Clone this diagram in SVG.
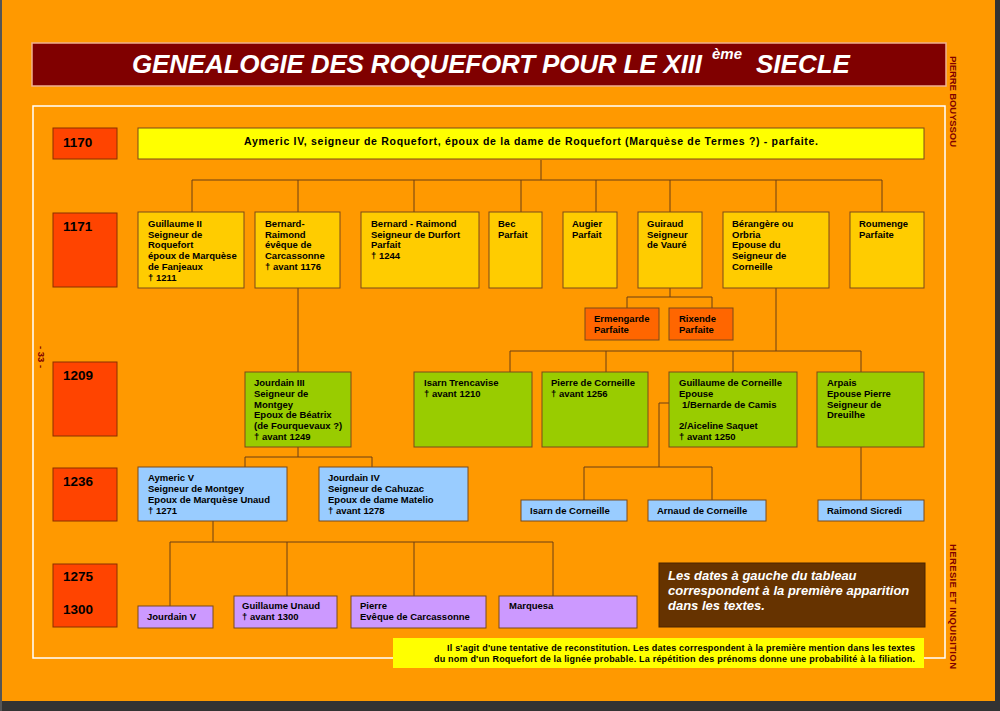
<svg xmlns="http://www.w3.org/2000/svg" width="1000" height="711" viewBox="0 0 1000 711">
<style>
text{font-family:"Liberation Sans",Arial,sans-serif;font-weight:bold;}
.nb{stroke:#7a4a1a;stroke-width:1;}
.t{font-size:9.5px;fill:#000;}
.yr{fill:#ff4400;stroke:#8a3000;stroke-width:1;}
.yt{font-size:13.5px;fill:#000;}
.c1{fill:#ffcc00;}
.c2{fill:#99cc00;}
.c3{fill:#99ccff;}
.c4{fill:#cc99ff;}
.c5{fill:#ff6600;}
.side{font-size:9.5px;fill:#800000;}
#connectors path{fill:none;stroke:#6b3e14;stroke-width:1;}
</style>
<rect x="0" y="0" width="1000" height="711" fill="#ff9900"/>
<rect x="995" y="0" width="5" height="711" fill="#333"/>
<rect x="0" y="701" width="1000" height="10" fill="#333"/>
<rect x="0" y="0" width="2" height="711" fill="#555"/>

<g id="title">
<rect x="32" y="43" width="914" height="43" fill="#800000" stroke="#f0b090" stroke-width="1.5"/>
<text x="132" y="73" font-size="26" font-style="italic" fill="#fff" textLength="570">GENEALOGIE DES ROQUEFORT POUR LE XIII</text>
<text x="712" y="59" font-size="15" font-style="italic" fill="#fff">ème</text>
<text x="756" y="73" font-size="26" font-style="italic" fill="#fff">SIECLE</text>
</g>

<rect x="33" y="106" width="912" height="552" fill="none" stroke="#fff" stroke-width="1.5"/>

<text class="side" transform="translate(950,56) rotate(90)" textLength="91">PIERRE BOUYSSOU</text>
<text class="side" transform="translate(950,544) rotate(90)" textLength="125">HERESIE ET INQUISITION</text>
<text class="side" transform="translate(38,346) rotate(90)" font-size="11">- 33 -</text>

<g id="years">
<g id="y1170"><rect class="yr" x="53" y="128" width="64" height="31"/><text class="yt" x="63" y="147">1170</text></g>
<g id="y1171"><rect class="yr" x="53" y="213" width="64" height="74"/><text class="yt" x="63" y="231">1171</text></g>
<g id="y1209"><rect class="yr" x="53" y="362" width="64" height="74"/><text class="yt" x="63" y="380">1209</text></g>
<g id="y1236"><rect class="yr" x="53" y="468" width="64" height="53"/><text class="yt" x="63" y="486">1236</text></g>
<g id="y1275"><rect class="yr" x="53" y="564" width="64" height="63"/><text class="yt" x="63" y="581">1275</text><text class="yt" x="63" y="614">1300</text></g>
</g>

<g id="connectors">
<path d="M541 160V180M192 180H882M192 180V212M298 180V212M414 180V212M521 180V212M596 180V212M670 180V212M776 180V212M882 180V212"/>
<path d="M670 288V297M627 297H712M627 297V308M712 297V308"/>
<path d="M298 288V372"/>
<path d="M776 288V351M510 351H861M510 351V372M606 351V372M733 351V372M861 351V372"/>
<path d="M298 447V457M245 457H372M245 457V467M372 457V467"/>
<path d="M669 403H659V467M584 467H712M584 467V500M712 467V500"/>
<path d="M861 447V500"/>
<path d="M213 521V542M170 542H553M170 542V606M287 542V596M414 542V596M553 542V596"/>
</g>

<g id="n_aymeric4"><rect class="nb" x="138" y="128" width="786" height="31" fill="#ffff00"/>
<text x="531" y="145" font-size="10.5" text-anchor="middle" textLength="574">Aymeric IV, seigneur de Roquefort, époux de la dame de Roquefort  (Marquèse de Termes ?) - parfaite.</text></g>

<g id="n_guillaume2"><rect class="nb c1" x="138" y="212" width="106" height="76"/>
<text class="t" x="148" y="227"><tspan x="148">Guillaume II</tspan><tspan x="148" dy="10.7">Seigneur de</tspan><tspan x="148" dy="10.7">Roquefort</tspan><tspan x="148" dy="10.7">époux de Marquèse</tspan><tspan x="148" dy="10.7">de Fanjeaux</tspan><tspan x="148" dy="10.7">† 1211</tspan></text></g>

<g id="n_bernard_eveque"><rect class="nb c1" x="255" y="212" width="85" height="76"/>
<text class="t" x="265" y="227"><tspan x="265">Bernard-</tspan><tspan x="265" dy="10.7">Raimond</tspan><tspan x="265" dy="10.7">évêque de</tspan><tspan x="265" dy="10.7">Carcassonne</tspan><tspan x="265" dy="10.7">† avant 1176</tspan></text></g>

<g id="n_bernard_durfort"><rect class="nb c1" x="361" y="212" width="118" height="76"/>
<text class="t" x="371" y="227"><tspan x="371">Bernard - Raimond</tspan><tspan x="371" dy="10.7">Seigneur de Durfort</tspan><tspan x="371" dy="10.7">Parfait</tspan><tspan x="371" dy="10.7">† 1244</tspan></text></g>

<g id="n_bec"><rect class="nb c1" x="489" y="212" width="53" height="76"/>
<text class="t" x="498" y="227"><tspan x="498">Bec</tspan><tspan x="498" dy="10.7">Parfait</tspan></text></g>

<g id="n_augier"><rect class="nb c1" x="563" y="212" width="54" height="76"/>
<text class="t" x="572" y="227"><tspan x="572">Augier</tspan><tspan x="572" dy="10.7">Parfait</tspan></text></g>

<g id="n_guiraud"><rect class="nb c1" x="638" y="212" width="64" height="76"/>
<text class="t" x="647" y="227"><tspan x="647">Guiraud</tspan><tspan x="647" dy="10.7">Seigneur</tspan><tspan x="647" dy="10.7">de Vauré</tspan></text></g>

<g id="n_berangere"><rect class="nb c1" x="723" y="212" width="106" height="76"/>
<text class="t" x="732" y="227"><tspan x="732">Bérangère ou</tspan><tspan x="732" dy="10.7">Orbria</tspan><tspan x="732" dy="10.7">Epouse du</tspan><tspan x="732" dy="10.7">Seigneur de</tspan><tspan x="732" dy="10.7">Corneille</tspan></text></g>

<g id="n_roumenge"><rect class="nb c1" x="850" y="212" width="74" height="76"/>
<text class="t" x="859" y="227"><tspan x="859">Roumenge</tspan><tspan x="859" dy="10.7">Parfaite</tspan></text></g>

<g id="n_ermengarde"><rect class="nb c5" x="585" y="308" width="74" height="32"/>
<text class="t" x="594" y="322"><tspan x="594">Ermengarde</tspan><tspan x="594" dy="11">Parfaite</tspan></text></g>

<g id="n_rixende"><rect class="nb c5" x="669" y="308" width="64" height="32"/>
<text class="t" x="679" y="322"><tspan x="679">Rixende</tspan><tspan x="679" dy="11">Parfaite</tspan></text></g>

<g id="n_jourdain3"><rect class="nb c2" x="245" y="372" width="106" height="75"/>
<text class="t" x="254" y="386"><tspan x="254">Jourdain III</tspan><tspan x="254" dy="10.8">Seigneur de</tspan><tspan x="254" dy="10.8">Montgey</tspan><tspan x="254" dy="10.8">Epoux de Béatrix</tspan><tspan x="254" dy="10.8">(de Fourquevaux ?)</tspan><tspan x="254" dy="10.8">† avant 1249</tspan></text></g>

<g id="n_isarn_trencavise"><rect class="nb c2" x="414" y="372" width="118" height="75"/>
<text class="t" x="424" y="386"><tspan x="424">Isarn Trencavise</tspan><tspan x="424" dy="10.8">† avant 1210</tspan></text></g>

<g id="n_pierre_corneille"><rect class="nb c2" x="542" y="372" width="106" height="75"/>
<text class="t" x="551" y="386"><tspan x="551">Pierre de Corneille</tspan><tspan x="551" dy="10.8">† avant 1256</tspan></text></g>

<g id="n_guillaume_corneille"><rect class="nb c2" x="669" y="372" width="128" height="75"/>
<text class="t" x="679" y="386"><tspan x="679">Guillaume de Corneille</tspan><tspan x="679" dy="10.8">Epouse</tspan><tspan x="682" dy="10.8">1/Bernarde de Camis</tspan><tspan x="679" dy="21.6">2/Aiceline Saquet</tspan><tspan x="679" dy="10.8">† avant 1250</tspan></text></g>

<g id="n_arpais"><rect class="nb c2" x="817" y="372" width="107" height="75"/>
<text class="t" x="827" y="386"><tspan x="827">Arpais</tspan><tspan x="827" dy="10.8">Epouse Pierre</tspan><tspan x="827" dy="10.8">Seigneur de</tspan><tspan x="827" dy="10.8">Dreuilhe</tspan></text></g>

<g id="n_aymeric5"><rect class="nb c3" x="138" y="467" width="149" height="54"/>
<text class="t" x="148" y="481"><tspan x="148">Aymeric V</tspan><tspan x="148" dy="11">Seigneur de Montgey</tspan><tspan x="148" dy="11">Epoux de Marquèse Unaud</tspan><tspan x="148" dy="11">† 1271</tspan></text></g>

<g id="n_jourdain4"><rect class="nb c3" x="319" y="467" width="149" height="54"/>
<text class="t" x="328" y="481"><tspan x="328">Jourdain IV</tspan><tspan x="328" dy="11">Seigneur de Cahuzac</tspan><tspan x="328" dy="11">Epoux de dame Matelio</tspan><tspan x="328" dy="11">† avant 1278</tspan></text></g>

<g id="n_isarn_corneille"><rect class="nb c3" x="521" y="500" width="106" height="21"/>
<text class="t" x="530" y="514">Isarn de Corneille</text></g>

<g id="n_arnaud_corneille"><rect class="nb c3" x="648" y="500" width="118" height="21"/>
<text class="t" x="657" y="514">Arnaud de Corneille</text></g>

<g id="n_raimond_sicredi"><rect class="nb c3" x="818" y="500" width="106" height="21"/>
<text class="t" x="827" y="514">Raimond Sicredi</text></g>

<g id="n_jourdain5"><rect class="nb c4" x="138" y="606" width="75" height="22"/>
<text class="t" x="147" y="620">Jourdain V</text></g>

<g id="n_guillaume_unaud"><rect class="nb c4" x="234" y="596" width="103" height="32"/>
<text class="t" x="242" y="609"><tspan x="242">Guillaume Unaud</tspan><tspan x="242" dy="11">† avant 1300</tspan></text></g>

<g id="n_pierre"><rect class="nb c4" x="351" y="596" width="135" height="32"/>
<text class="t" x="360" y="609"><tspan x="360">Pierre</tspan><tspan x="360" dy="11">Evêque de Carcassonne</tspan></text></g>

<g id="n_marquesa"><rect class="nb c4" x="499" y="596" width="138" height="32"/>
<text class="t" x="509" y="609">Marquesa</text></g>

<g id="note_dates"><rect x="659" y="563" width="266" height="64" fill="#663300" stroke="#4a2500" stroke-width="1"/>
<text x="668" y="580" font-size="13" font-style="italic" fill="#fff"><tspan x="668">Les dates à gauche du tableau</tspan><tspan x="668" dy="15">correspondent à la première apparition</tspan><tspan x="668" dy="15">dans les textes.</tspan></text></g>

<g id="note_bottom"><rect x="393" y="638" width="531" height="30" fill="#ffff00"/>
<text x="915" y="651" font-size="9" text-anchor="end" fill="#000" textLength="468">Il s'agit d'une tentative de reconstitution. Les dates correspondent à la première mention dans les textes</text>
<text x="915" y="662" font-size="9" text-anchor="end" fill="#000" textLength="481">du nom d'un Roquefort de la lignée probable. La répétition des prénoms donne une probabilité à la filiation.</text></g>
</svg>
